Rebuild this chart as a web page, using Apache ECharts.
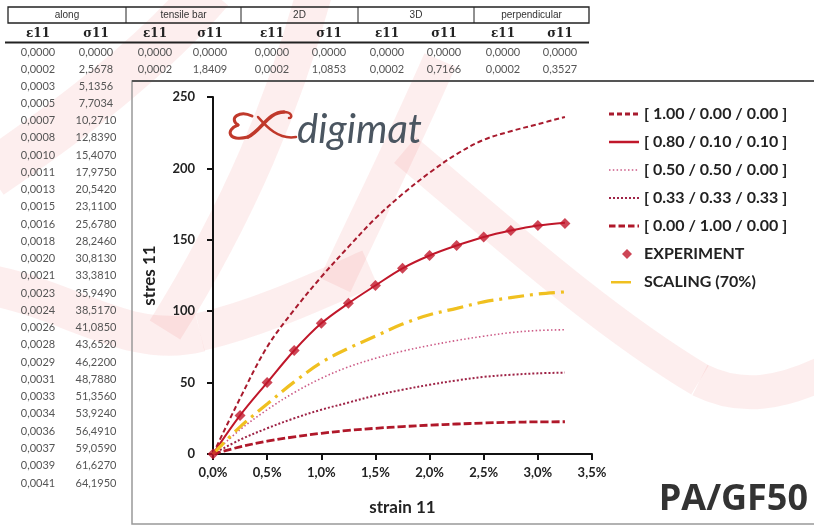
<!DOCTYPE html>
<html><head><meta charset="utf-8">
<script src="https://cdn.jsdelivr.net/npm/echarts@6/dist/echarts.min.js"></script>
<style>html,body{margin:0;padding:0;background:#fff}#c{width:814px;height:526px}</style>
</head><body><div id="c"></div>
<script>
// ---------- chart data ----------
const strain = [0,0.0025,0.005,0.0075,0.01,0.0125,0.015,0.0175,0.02,0.0225,0.025,0.0275,0.03,0.0325];
const seriesNames = ['[ 1.00 / 0.00 / 0.00 ]','[ 0.80 / 0.10 / 0.10 ]','[ 0.50 / 0.50 / 0.00 ]','[ 0.33 / 0.33 / 0.33 ]','[ 0.00 / 1.00 / 0.00 ]','EXPERIMENT','SCALING (70%)'];
const s100 = [0,39,75,101,124,145,165,182,197,210,220,226,231,236];
const s80 = [0,27,50,72.5,91.5,105.5,118,130,139,146,152,156.5,160,162];
const s50 = [0,17,31,43,53,61,67,72,76,79.5,82.5,85,86.5,87];
const s33 = [0,10,18,25,31,36,41,45,48.5,51.5,54,55.5,56.5,57];
const s00 = [0,5,9,12,14.5,16.5,18,19.2,20.2,21,21.7,22.2,22.5,22.6];
const experiment = [0,27,50,72.5,91.5,105.5,118,130,139,146,152,156.5,160,161.5];
const scaling = [0,19,35,50.5,64,74,82.5,91,97.5,102,106.5,109.5,112,113.5];
const yTicks = [0,50,100,150,200,250];

// ---------- table texts ----------
const tableGroups = ['along','tensile bar','2D','3D','perpendicular'];
const tableSubHeads = ['ε11','σ11','ε11','σ11','ε11','σ11','ε11','σ11','ε11','σ11'];
const tableRow0 = ['0,0000','0,0000','0,0000','0,0000','0,0000','0,0000','0,0000','0,0000','0,0000','0,0000'];
const tableRow1 = ['0,0002','2,5678','0,0002','1,8409','0,0002','1,0853','0,0002','0,7166','0,0002','0,3527'];
const alongStrain = ['0,0003','0,0005','0,0007','0,0008','0,0010','0,0011','0,0013','0,0015','0,0016','0,0018','0,0020','0,0021','0,0023','0,0024','0,0026','0,0028','0,0029','0,0031','0,0033','0,0034','0,0036','0,0037','0,0039','0,0041'];
const alongStress = ['5,1356','7,7034','10,2710','12,8390','15,4070','17,9750','20,5420','23,1100','25,6780','28,2460','30,8130','33,3810','35,9490','38,5170','41,0850','43,6520','46,2200','48,7880','51,3560','53,9240','56,4910','59,0590','61,6270','64,1950'];

// ---------- layout ----------
const colX = [38,96,155,210,272,329,387,444,503,560];
const groupEdges = [8,126,241,358,474,589];

const pairs = a => strain.map((x,i)=>[x,a[i]]);
const txt = (t,x,y,font,fill,align,z) => ({type:'text', z: z||10, silent:true,
  style:{text:t,x:x,y:y,font:font,fill:fill,textAlign:align||'center',textVerticalAlign:'middle',align:align||'center',verticalAlign:'middle'}});

const g = [];
// watermark
const wm = 'rgba(230,60,60,0.085)';
const bz = (x1,y1,c1x,c1y,c2x,c2y,x2,y2,w) => ({type:'bezierCurve', z:-5, silent:true,
  shape:{x1,y1,cpx1:c1x,cpy1:c1y,cpx2:c2x,cpy2:c2y,x2,y2}, style:{stroke:wm,lineWidth:w,fill:null}});
g.push(bz(210,-10,150,60,70,120,-10,175,48));
g.push(bz(-10,285,70,300,130,350,200,332,40));
g.push(bz(200,332,260,318,320,290,370,268,38));
g.push(bz(315,-10,285,100,240,210,165,330,36));
g.push(bz(440,60,405,140,370,210,335,285,34));
g.push(bz(405,150,500,230,600,320,700,380,34));
g.push(bz(700,380,740,400,780,395,830,370,34));

// table
g.push({type:'rect', z:10, silent:true, shape:{x:groupEdges[0],y:7,width:groupEdges[5]-groupEdges[0],height:16}, style:{fill:null,stroke:'#222',lineWidth:1.3}});
for (let i=1;i<5;i++) g.push({type:'line', z:10, silent:true, shape:{x1:groupEdges[i],y1:7,x2:groupEdges[i],y2:23}, style:{stroke:'#222',lineWidth:1}});
tableGroups.forEach((t,i)=>g.push(txt(t,(groupEdges[i]+groupEdges[i+1])/2,15.5,'10px "Liberation Sans"','#333')));
tableSubHeads.forEach((t,i)=>g.push(txt(t,colX[i],33.5,'bold 12px "DejaVu Serif"','#222')));
g.push({type:'line', z:10, silent:true, shape:{x1:5,y1:42.5,x2:589,y2:42.5}, style:{stroke:'#222',lineWidth:2}});
tableRow0.forEach((t,i)=>g.push(txt(t,colX[i],52,'11px Lato','#555')));
tableRow1.forEach((t,i)=>g.push(txt(t,colX[i],69.5,'11px Lato','#555')));
alongStrain.forEach((t,i)=>g.push(txt(t,colX[0],86+i*17.26,'11px Lato','#555')));
alongStress.forEach((t,i)=>g.push(txt(t,colX[1],86+i*17.26,'11px Lato','#555')));

// chart frame
g.push({type:'rect', z:1, silent:true, shape:{x:132,y:81,width:700,height:443}, style:{fill:null,stroke:'#999',lineWidth:1.5}});
g.push({type:'line', z:1, silent:true, shape:{x1:132,y1:81,x2:814,y2:81}, style:{stroke:'#555',lineWidth:2}});

// logo
g.push(txt('digimat',297,130,'italic 40px Lato','#4b5661','left'));
const red = '#c0392b';
const lb = (x1,y1,c1x,c1y,c2x,c2y,x2,y2,w) => ({type:'bezierCurve', z:10, silent:true,
  shape:{x1,y1,cpx1:c1x,cpy1:c1y,cpx2:c2x,cpy2:c2y,x2,y2}, style:{stroke:red,lineWidth:w,fill:null,lineCap:'round'}});
g.push(lb(252,116,240,110,228,118,238,125,3));
g.push(lb(238,125,225,130,228,142,248,137,3));
g.push(lb(248,137,262,130,268,112,284,112,3.5));
g.push(lb(284,112,292,112,293,118,289,118,2.5));
g.push(lb(258,117,266,126,278,140,296,137,2.5));

// PA/GF50
g.push(txt('PA/GF50',808,500,'bold 36px "Open Sans"','#333','right'));

// legend icon paths (IW x IH box)
const IW = 30, IH = 11;
const frame = 'M0,0L0,0M'+IW+','+IH+'L'+IW+','+IH;
const dashIcon = (dash, gap, h) => {
  let p = frame, x = 0; const y0 = (IH-h)/2;
  while (x < IW) { const w = Math.min(dash, IW-x); p += 'M'+x+','+y0+'h'+w+'v'+h+'h'+(-w)+'Z'; x += dash+gap; }
  return 'path://'+p;
};
const diamondIcon = 'path://'+frame+'M18,0.5L23,5.5L18,10.5L13,5.5Z';
const shortIcon = 'path://'+frame+'M2,4.5h20v2.5h-20Z';

const fmtPct = v => (v*100).toFixed(1).replace('.',',')+'%';
const axisFont = {fontFamily:'Lato',fontWeight:'bold',fontSize:13,color:'#222'};

const lineSeries = (name,data,color,width,dash) => ({
  name, type:'line', data:pairs(data), smooth:0.35, symbol:'none', z:3,
  lineStyle:{color,width,type:dash}, itemStyle:{color}
});

const option = {
  animation:false,
  backgroundColor:'#fff',
  graphic:{elements:g},
  grid:{left:213,right:222,top:97,bottom:72},
  legend:{
    orient:'vertical', left:604, top:101, itemWidth:IW, itemHeight:IH, itemGap:12,
    itemStyle:{borderWidth:0},
    textStyle:{fontFamily:'Lato',fontWeight:'bold',fontSize:16,color:'#222'},
    data:[
      {name:seriesNames[0],icon:dashIcon(5,3,3)},
      {name:seriesNames[1],icon:dashIcon(30,0,2.5)},
      {name:seriesNames[2],icon:dashIcon(1.5,2.3,1.5)},
      {name:seriesNames[3],icon:dashIcon(2,2,2.2)},
      {name:seriesNames[4],icon:dashIcon(6.5,3,3)},
      {name:seriesNames[5],icon:diamondIcon},
      {name:seriesNames[6],icon:shortIcon}
    ]
  },
  xAxis:{type:'value',min:0,max:0.035,interval:0.005,
    axisLine:{show:true,lineStyle:{color:'#111',width:2}},
    axisTick:{show:true,length:6,lineStyle:{color:'#111',width:2}},
    axisLabel:Object.assign({formatter:fmtPct,margin:12},axisFont),
    splitLine:{show:false},
    name:'strain 11',nameLocation:'middle',nameGap:45,
    nameTextStyle:{fontFamily:'Lato',fontWeight:'bold',fontSize:17,color:'#222'}},
  yAxis:{type:'value',min:yTicks[0],max:yTicks[yTicks.length-1],interval:50,
    axisLine:{show:true,lineStyle:{color:'#111',width:2}},
    axisTick:{show:true,length:6,lineStyle:{color:'#111',width:2}},
    axisLabel:Object.assign({margin:18},axisFont),
    splitLine:{show:false},
    name:'stres 11',nameLocation:'middle',nameGap:55,nameRotate:90,
    nameTextStyle:{fontFamily:'Lato',fontWeight:'bold',fontSize:17,color:'#222'}},
  series:[
    lineSeries(seriesNames[0],s100,'#a81b2e',2,[5,3]),
    lineSeries(seriesNames[1],s80,'#c0172a',2,'solid'),
    lineSeries(seriesNames[2],s50,'#cc5a86',1.6,[1.5,2.3]),
    lineSeries(seriesNames[3],s33,'#9e2346',2,[2,2]),
    lineSeries(seriesNames[4],s00,'#b0182a',2.8,[8,3]),
    {name:seriesNames[5],type:'scatter',data:pairs(experiment),symbol:'diamond',symbolSize:11,z:5,
     itemStyle:{color:'#c0172a'}},
    lineSeries(seriesNames[6],scaling,'#f0c020',3.2,[16,6,3,6])
  ]
};
echarts.init(document.getElementById('c')).setOption(option);
</script></body></html>
